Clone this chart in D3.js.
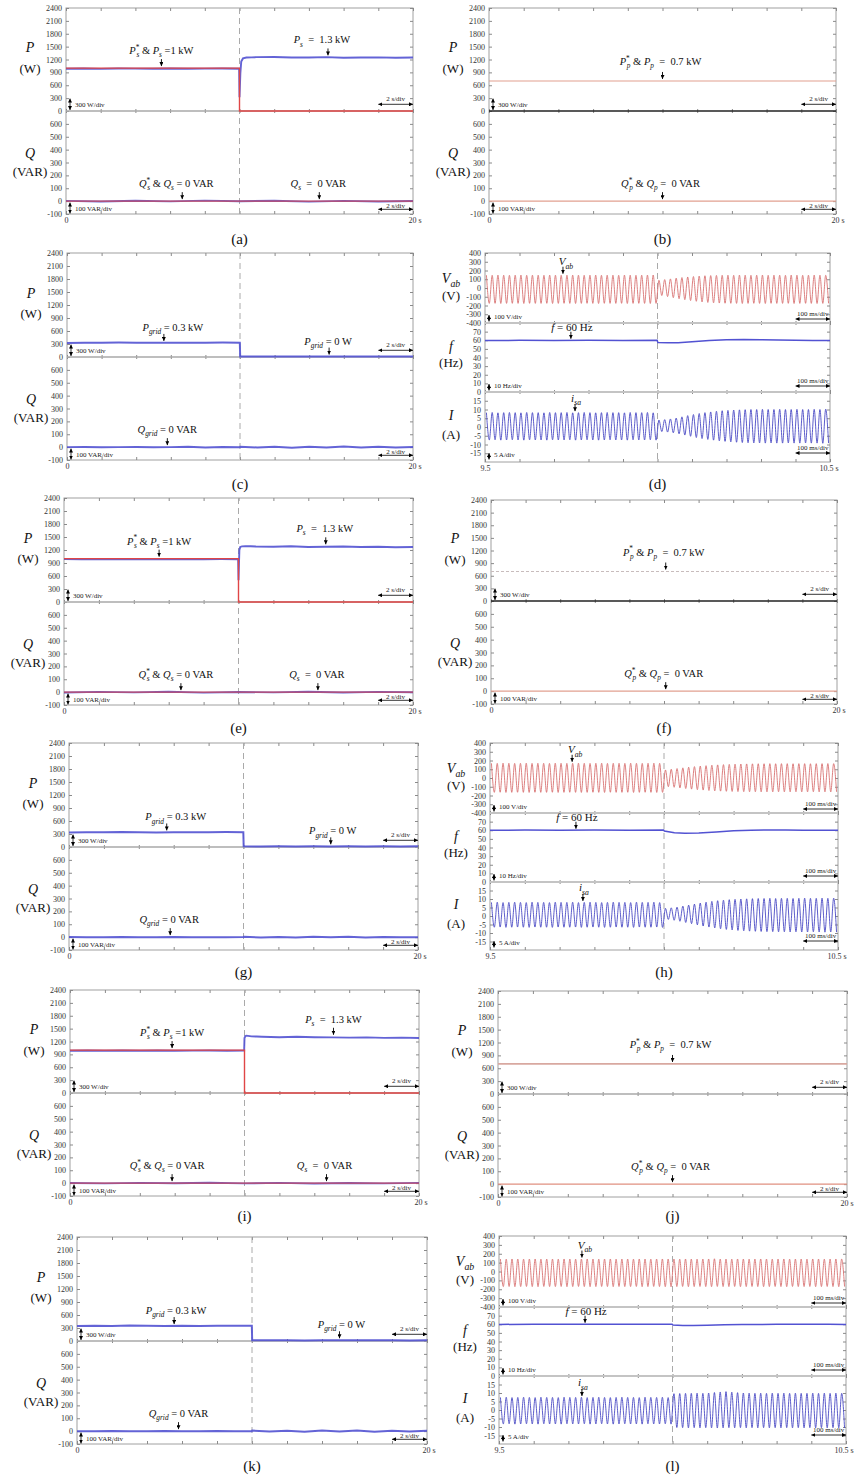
<!DOCTYPE html>
<html>
<head>
<meta charset="utf-8">
<script src="https://cdnjs.cloudflare.com/ajax/libs/d3/7.8.5/d3.min.js"></script>
<style>
body{margin:0;background:#fff;}
</style>
</head>
<body>
<svg id="fig" width="854" height="1478"></svg>
<script>
var SERIF = "'Liberation Serif','Times New Roman',serif";
var BLUE = "#5252d2";
var RED = "#e04646";

//Tick labels-----------------------------------------------------------------------------------------
var pTicks = [0,300,600,900,1200,1500,1800,2100,2400];
var qTicks = [-100,0,100,200,300,400,500,600];
var tTicks = [0,2,4,6,8,10,12,14,16,18,20];
var vTicks = [-400,-300,-200,-100,0,100,200,300,400];
var fTicks = [0,10,20,30,40,50,60,70];
var iTicks = [-15,-10,-5,0,5,10,15];
var msTicks = [9.5,9.6,9.7,9.8,9.9,10,10.1,10.2,10.3,10.4,10.5];

//Power records over 20 s (W / VAR)-------------------------------------------------------------------
var powTime = [0,1,2,3,4,5,6,7,8,9,9.98,10,10.05,10.1,10.2,10.4,10.7,11,12,13,14,15,16,17,18,19,20];
var aPs = [985,990,982,992,988,986,990,983,987,990,986,320,880,1150,1225,1245,1250,1255,1258,1248,1245,1255,1242,1246,1250,1240,1245];
var ePs = [990,985,992,986,990,984,991,987,985,990,988,500,1200,1270,1285,1290,1285,1280,1275,1285,1270,1275,1280,1270,1275,1265,1270];
var iPs = [985,992,984,990,986,992,985,988,990,984,988,1280,1325,1335,1330,1320,1315,1310,1300,1310,1300,1295,1290,1295,1285,1290,1280];

var refTime = [0,10,10,20];
var psRef = [1000,1000,0,0];
var qsRef = [0,0,0,0];

var qTime = [0,2,4,6,8,10,12,14,16,18,20];
var aQs = [2,-3,3,-2,4,-1,3,-4,2,-3,1];
var eQs = [-3,2,-2,3,-4,1,-2,3,-3,2,-1];
var iQs = [1,-2,2,-1,3,-2,2,-3,1,-2,2];

var flatTime = [0,20];
var ppVal = [700,700];
var qpVal = [0,0];

var gridTime = [0,1,2,3,4,5,6,7,8,9,9.99,10.01,11,12,13,14,15,16,17,18,19,20];
var cPg = [325,330,328,332,330,327,331,329,330,333,330,12,10,11,9,10,12,10,9,11,10,10];
var gPg = [335,342,338,345,340,337,343,339,341,344,340,15,14,16,13,15,14,16,14,15,13,15];
var kPg = [345,352,348,355,350,347,353,349,351,354,350,16,15,17,14,16,15,17,15,16,14,16];
var cQg = [0,1,-1,0,1,-1,0,2,-2,1,0,3,-3,2,-4,3,-2,4,-3,2,-2,1];
var gQg = [1,0,-1,1,0,-1,1,0,-1,0,1,2,-2,1,-3,2,-1,3,-2,1,-1,0];
var kQg = [0,-1,1,0,-1,1,0,-1,1,0,0,4,-3,3,-4,4,-3,4,-4,3,-3,2];

//Waveform peaks, one positive and one negative per 60 Hz cycle (9.5 s - 10.5 s)-------------------
var dVpos = [146,145,147,146,145,146,147,145,146,146,
	145,147,146,145,146,147,146,145,146,147,
	145,146,146,145,147,146,145,146,147,148,
	88,96,104,112,119,126,131,136,140,142,
	144,145,146,145,147,146,145,146,147,145,
	146,146,145,147,146,145,146,147,146,145];
var dVneg = [-176,-175,-177,-176,-175,-176,-177,-175,-176,-176,
	-175,-177,-176,-175,-176,-177,-176,-175,-176,-177,
	-175,-176,-176,-175,-177,-176,-175,-176,-177,-176,
	-86,-98,-110,-122,-133,-143,-152,-159,-165,-169,
	-172,-174,-175,-176,-177,-176,-175,-176,-177,-175,
	-176,-176,-175,-177,-176,-175,-176,-177,-176,-175];
var dIpos = [8.2,8.3,8.1,8.2,8.3,8.2,8.1,8.3,8.2,8.2,
	8.1,8.3,8.2,8.2,8.3,8.1,8.2,8.3,8.2,8.1,
	8.2,8.3,8.2,8.2,8.1,8.3,8.2,8.2,8.3,8.1,
	4.0,4.2,4.6,5.1,5.8,6.5,7.1,7.7,8.2,8.6,
	9.0,9.3,9.5,9.7,9.8,9.9,10.0,10.0,10.1,10.0,
	10.0,10.1,10.0,10.0,10.1,10.0,10.0,10.1,10.0,10.2];
var dIneg = [-7.4,-7.3,-7.5,-7.4,-7.3,-7.4,-7.5,-7.3,-7.4,-7.4,
	-7.5,-7.3,-7.4,-7.4,-7.3,-7.5,-7.4,-7.3,-7.4,-7.5,
	-7.4,-7.3,-7.4,-7.4,-7.5,-7.3,-7.4,-7.4,-7.3,-7.5,
	-2.6,-2.9,-3.3,-3.9,-4.6,-5.3,-6.0,-6.6,-7.1,-7.5,
	-7.9,-8.2,-8.5,-8.7,-8.9,-9.0,-9.1,-9.1,-9.2,-9.1,
	-9.2,-9.2,-9.1,-9.2,-9.2,-9.1,-9.2,-9.2,-9.3,-9.2];

var hVpos = [168,167,169,168,167,168,169,167,168,168,
	167,169,168,167,168,169,168,167,168,169,
	167,168,168,167,169,168,167,168,169,168,
	92,100,108,116,123,130,136,141,146,150,
	153,156,158,160,161,162,163,163,164,163,
	164,164,163,164,164,163,164,164,165,164];
var hVneg = [-164,-163,-165,-164,-163,-164,-165,-163,-164,-164,
	-163,-165,-164,-163,-164,-165,-164,-163,-164,-165,
	-163,-164,-164,-163,-165,-164,-163,-164,-165,-164,
	-99,-106,-113,-120,-127,-133,-138,-143,-147,-150,
	-152,-154,-155,-156,-157,-157,-158,-158,-158,-157,
	-158,-158,-157,-158,-158,-157,-158,-158,-159,-158];
var hIpos = [8.0,8.1,7.9,8.0,8.1,8.0,7.9,8.1,8.0,8.0,
	7.9,8.1,8.0,8.0,8.1,7.9,8.0,8.1,8.0,7.9,
	8.0,8.1,8.0,8.0,7.9,8.1,8.0,8.0,8.1,7.9,
	4.5,4.8,5.2,5.8,6.4,7.0,7.6,8.1,8.6,9.0,
	9.3,9.6,9.8,10.0,10.1,10.2,10.3,10.3,10.4,10.3,
	10.4,10.4,10.3,10.4,10.5,10.4,10.4,10.5,10.4,10.5];
var hIneg = [-6.6,-6.5,-6.7,-6.6,-6.5,-6.6,-6.7,-6.5,-6.6,-6.6,
	-6.7,-6.5,-6.6,-6.6,-6.5,-6.7,-6.6,-6.5,-6.6,-6.7,
	-6.6,-6.5,-6.6,-6.6,-6.7,-6.5,-6.6,-6.6,-6.5,-6.7,
	-2.0,-2.5,-3.1,-3.8,-4.5,-5.2,-5.9,-6.5,-7.0,-7.5,
	-7.9,-8.2,-8.5,-8.7,-8.9,-9.0,-9.1,-9.2,-9.2,-9.3,
	-9.3,-9.4,-9.3,-9.4,-9.4,-9.3,-9.4,-9.5,-9.4,-9.5];

var lVpos = [140,139,141,140,139,140,141,139,140,140,
	139,141,140,139,140,141,140,139,140,141,
	139,140,140,139,141,140,139,140,141,140,
	140,139,141,140,139,140,141,143,140,140,
	139,141,140,139,140,141,140,139,140,141,
	139,140,140,139,141,140,139,140,141,140];
var lVneg = [-170,-169,-171,-170,-169,-170,-171,-169,-170,-170,
	-169,-171,-170,-169,-170,-171,-170,-169,-170,-171,
	-169,-170,-170,-169,-171,-170,-169,-170,-171,-172,
	-170,-169,-171,-170,-169,-170,-171,-169,-170,-170,
	-169,-171,-170,-169,-170,-171,-170,-169,-170,-171,
	-169,-170,-170,-169,-171,-170,-169,-170,-171,-170];
var lIpos = [7.4,7.5,7.3,7.4,7.5,7.4,7.3,7.5,7.4,7.4,
	7.3,7.5,7.4,7.4,7.5,7.3,7.4,7.5,7.4,7.3,
	7.4,7.5,7.4,7.4,7.3,7.5,7.4,7.4,7.5,7.3,
	9.6,9.7,9.8,9.8,9.9,9.8,10.0,10.3,10.6,10.8,
	10.5,10.2,10.0,9.9,9.8,9.9,9.8,9.9,9.8,9.9,
	9.8,9.9,9.8,9.8,9.9,9.8,9.9,9.8,9.9,9.8];
var lIneg = [-8.2,-8.1,-8.3,-8.2,-8.1,-8.2,-8.3,-8.1,-8.2,-8.2,
	-8.3,-8.1,-8.2,-8.2,-8.1,-8.3,-8.2,-8.1,-8.2,-8.3,
	-8.2,-8.1,-8.2,-8.2,-8.3,-8.1,-8.2,-8.2,-8.1,-8.3,
	-10.3,-10.4,-10.5,-10.4,-10.5,-10.4,-10.5,-10.6,-10.5,-10.4,
	-10.5,-10.4,-10.5,-10.4,-10.5,-10.4,-10.5,-10.4,-10.5,-10.4,
	-10.5,-10.4,-10.5,-10.4,-10.5,-10.4,-10.5,-10.4,-10.5,-10.6];

//Frequency records (Hz)------------------------------------------------------------------------------
var fTime = [9.5,9.6,9.7,9.8,9.9,9.999,10.001,10.03,10.06,10.1,10.15,10.2,10.25,10.3,10.35,10.4,10.45,10.5];
var dF = [59.6,59.9,59.7,60.0,59.8,59.9,57.4,57.0,57.2,58.3,59.6,60.5,60.9,60.7,60.3,59.9,59.6,59.8];
var hF = [60.0,60.2,60.0,60.3,60.1,60.2,59.0,57.2,56.5,56.8,58.0,59.3,60.0,60.4,60.3,60.0,60.1,60.0];
var lF = [59.8,60.0,59.9,60.1,60.0,60.1,59.2,58.6,58.5,58.8,59.3,59.6,59.8,60.0,59.9,60.0,59.9,59.8];

//Text helpers----------------------------------------------------------------------------------------
function N(t){ return {t:t}; }
function I(t){ return {t:t, i:1}; }
function SB(t,dx){ return {t:t, i:1, k:"sub", dx:dx}; }
function SP(t){ return {t:t, k:"sup"}; }

var svg = d3.select("#fig");
svg.style("font-family",SERIF);
var defs = svg.append("defs");
defs.append("marker").attr("id","ah")
	.attr("viewBox","0 0 10 10").attr("refX",10).attr("refY",5)
	.attr("markerWidth",4).attr("markerHeight",4)
	.attr("markerUnits","userSpaceOnUse").attr("orient","auto-start-reverse")
	.append("path").attr("d","M0,0L10,5L0,10z").attr("fill","#000");

function rich(sel, parts, size)
{
	var cur = 0;
	parts.forEach(function(p){
		var small = (p.k === "sub" || p.k === "sup");
		var shift = p.k === "sub" ? size*0.3 : (p.k === "sup" ? -size*0.42 : 0);
		sel.append("tspan").text(p.t)
			.attr("dy", shift - cur)
			.attr("dx", p.dx || 0)
			.style("font-size", (small ? size*0.7 : size) + "px")
			.style("font-style", p.i ? "italic" : "normal");
		cur = shift;
	});
}

function label(g, xx, yy, parts, size, anchor)
{
	var t = g.append("text").attr("x",xx).attr("y",yy)
		.attr("text-anchor",anchor || "middle")
		.style("white-space","pre").attr("fill","#111");
	rich(t, parts, size);
	return t;
}

function plain(d){ return String(d); }

function tidy(ax)
{
	ax.attr("font-family",SERIF).attr("font-size",8);
	ax.select(".domain").remove();
	ax.selectAll(".tick line").attr("stroke","#8a8a8a");
	ax.selectAll(".tick text").attr("fill","#333");
}

function yAxes(g, y, ticks, x0, x1)
{
	tidy(g.append("g").attr("transform","translate("+x0+",0)")
		.call(d3.axisLeft(y).tickValues(ticks).tickSizeInner(-3).tickSizeOuter(0).tickPadding(4).tickFormat(plain)));
	tidy(g.append("g").attr("transform","translate("+x1+",0)")
		.call(d3.axisRight(y).tickValues(ticks).tickSizeInner(-3).tickSizeOuter(0).tickFormat("")));
}

function xTicks(g, x, ticks, yy, up, down)
{
	if(up)
		tidy(g.append("g").attr("transform","translate(0,"+yy+")")
			.call(d3.axisBottom(x).tickValues(ticks).tickSizeInner(-up).tickSizeOuter(0).tickFormat("")));
	if(down)
		tidy(g.append("g").attr("transform","translate(0,"+yy+")")
			.call(d3.axisTop(x).tickValues(ticks).tickSizeInner(-down).tickSizeOuter(0).tickFormat("")));
}

function xLabels(g, x, ticks, yy, first, last)
{
	var ax = g.append("g").attr("transform","translate(0,"+yy+")")
		.call(d3.axisBottom(x).tickValues(ticks).tickSizeInner(-3).tickSizeOuter(0).tickPadding(3)
		.tickFormat(function(d,i){ return i === 0 ? first : (i === ticks.length-1 ? last : ""); }));
	tidy(ax);
	//keep the last label inside the page
	ax.selectAll(".tick text").filter(function(d,i){ return i === ticks.length-1; })
		.attr("text-anchor","end").attr("dx", Math.min(8, 853 - x(ticks[ticks.length-1])));
}

function note(g, xx, tip, parts, dx, gap)
{
	g.append("line").attr("x1",xx).attr("x2",xx).attr("y1",tip-7).attr("y2",tip)
		.attr("stroke","#000").attr("stroke-width",0.9).attr("marker-end","url(#ah)");
	label(g, xx+(dx||0), tip-(gap||12), parts, 10.5);
}

function vDiv(g, xx, ya, yb, txt)
{
	g.append("line").attr("x1",xx).attr("x2",xx).attr("y1",ya).attr("y2",yb)
		.attr("stroke","#000").attr("stroke-width",0.8)
		.attr("marker-start","url(#ah)").attr("marker-end","url(#ah)");
	g.append("text").attr("x",xx+5).attr("y",yb-3).text(txt)
		.style("font-size","7px").attr("fill","#222");
}

function hDiv(g, xa, xb, yy, ty, txt)
{
	g.append("line").attr("x1",xa).attr("x2",xb).attr("y1",yy).attr("y2",yy)
		.attr("stroke","#000").attr("stroke-width",0.8)
		.attr("marker-start","url(#ah)").attr("marker-end","url(#ah)");
	g.append("text").attr("x",(xa+xb)/2).attr("y",ty).text(txt)
		.attr("text-anchor","middle").style("font-size","7px").attr("fill","#222");
}

function pts(t, v){ return t.map(function(tt,i){ return [tt, v[i]]; }); }

//P and Q panels over 20 s------------------------------------------------------------------------------
function drawPQ(p)
{
	var g = svg.append("g");
	var x = d3.scaleLinear().domain([0,20]).range([p.x0,p.x1]);
	var yP = d3.scaleLinear().domain([0,2400]).range([p.ym,p.y0]);
	var yQ = d3.scaleLinear().domain([-100,700]).range([p.y1,p.ym]);

	g.append("rect").attr("x",p.x0).attr("y",p.y0)
		.attr("width",p.x1-p.x0).attr("height",p.y1-p.y0)
		.attr("fill","none").attr("stroke","#a0a0a0");

	yAxes(g, yP, pTicks, p.x0, p.x1);
	yAxes(g, yQ, qTicks, p.x0, p.x1);
	xTicks(g, x, tTicks, p.y0, 0, 3);
	xTicks(g, x, tTicks, p.ym, 2, 2);
	xLabels(g, x, tTicks, p.y1, "0", "20 s");

	g.append("line").attr("x1",p.x0).attr("x2",p.x1).attr("y1",p.ym).attr("y2",p.ym)
		.attr("stroke",p.divColor || "#a8a8a8").attr("stroke-width",1.4);

	if(p.step)
		g.append("line").attr("x1",x(10)).attr("x2",x(10)).attr("y1",p.y0).attr("y2",p.y1)
			.attr("stroke","#aaa").attr("stroke-dasharray","6,4");

	var lineP = d3.line().x(function(d){ return x(d[0]); }).y(function(d){ return yP(d[1]); });
	var lineQ = d3.line().x(function(d){ return x(d[0]); }).y(function(d){ return yQ(d[1]); });
	p.pLines.forEach(function(l){
		g.append("path").attr("d",lineP(pts(l.t,l.v))).attr("fill","none")
			.attr("stroke",l.c).attr("stroke-width",l.w).attr("stroke-dasharray",l.dash || null)
			.attr("opacity",l.o || 1);
	});
	p.qLines.forEach(function(l){
		g.append("path").attr("d",lineQ(pts(l.t,l.v))).attr("fill","none")
			.attr("stroke",l.c).attr("stroke-width",l.w).attr("stroke-dasharray",l.dash || null)
			.attr("opacity",l.o || 1);
	});

	p.pNotes.forEach(function(n){ note(g, x(n.t), yP(n.v)-2, n.parts, n.dx, n.gap); });
	p.qNotes.forEach(function(n){ note(g, x(n.t), yQ(n.v)-2, n.parts, n.dx, n.gap); });

	//axis titles
	var tx = p.x0 - 36;
	label(g, tx, p.y0 + 0.38*(p.ym-p.y0) + 5, [I("P")], 14);
	label(g, tx, p.y0 + 0.58*(p.ym-p.y0) + 5, [N("(W)")], 13);
	label(g, tx, p.ym + 0.41*(p.y1-p.ym) + 5, [I("Q")], 14);
	label(g, tx, p.ym + 0.58*(p.y1-p.ym) + 5, [N("(VAR)")], 13);

	//scale indicators
	vDiv(g, p.x0+4, p.ym-12.5, p.ym-1, "300 W/div");
	hDiv(g, x(18), p.x1, p.ym-6.7, p.ym-10, "2 s/div");
	vDiv(g, p.x0+4, p.y1-11.5, p.y1-0.5, "100 VAR/div");
	hDiv(g, x(18), p.x1, p.y1-4.7, p.y1-6.5, "2 s/div");

	g.append("text").attr("x",(p.x0+p.x1)/2).attr("y",p.capY).attr("text-anchor","middle")
		.style("font-size","15px").attr("fill","#111").text(p.cap);
}

//V, f and I panels over 9.5 s - 10.5 s-------------------------------------------------------------------
function wave(pos, neg)
{
	var out = [];
	for(var k=0;k<pos.length;k++)
		{
			out.push([9.5 + (k+0.25)/60, pos[k]]);
			out.push([9.5 + (k+0.75)/60, neg[k]]);
		}
	return out;
}

function drawVFI(p)
{
	var g = svg.append("g");
	var x = d3.scaleLinear().domain([9.5,10.5]).range([p.x0,p.x1]);
	var yV = d3.scaleLinear().domain([-400,400]).range([p.y1,p.y0]);
	var yF = d3.scaleLinear().domain([0,80]).range([p.y2,p.y1]);
	var yI = d3.scaleLinear().domain([-20,20]).range([p.y3,p.y2]);

	g.append("rect").attr("x",p.x0).attr("y",p.y0)
		.attr("width",p.x1-p.x0).attr("height",p.y3-p.y0)
		.attr("fill","none").attr("stroke","#a0a0a0");

	yAxes(g, yV, vTicks, p.x0, p.x1);
	yAxes(g, yF, fTicks, p.x0, p.x1);
	yAxes(g, yI, iTicks, p.x0, p.x1);
	xTicks(g, x, msTicks, p.y0, 0, 3);
	xTicks(g, x, msTicks, p.y1, 2, 2);
	xTicks(g, x, msTicks, p.y2, 2, 2);
	xLabels(g, x, msTicks, p.y3, "9.5", "10.5 s");

	[p.y1,p.y2].forEach(function(yy){
		g.append("line").attr("x1",p.x0).attr("x2",p.x1).attr("y1",yy).attr("y2",yy)
			.attr("stroke","#c4c4c4").attr("stroke-width",2);
	});

	g.append("line").attr("x1",x(10)).attr("x2",x(10)).attr("y1",p.y0).attr("y2",p.y3)
		.attr("stroke","#aaa").attr("stroke-dasharray","6,4");

	var lineV = d3.line().curve(d3.curveMonotoneX).x(function(d){ return x(d[0]); }).y(function(d){ return yV(d[1]); });
	var lineF = d3.line().x(function(d){ return x(d[0]); }).y(function(d){ return yF(d[1]); });
	var lineI = d3.line().curve(d3.curveMonotoneX).x(function(d){ return x(d[0]); }).y(function(d){ return yI(d[1]); });

	g.append("path").attr("d",lineV(wave(p.vPos,p.vNeg))).attr("fill","none")
		.attr("stroke","#d87272").attr("stroke-width",0.9);
	g.append("path").attr("d",lineF(pts(fTime,p.f))).attr("fill","none")
		.attr("stroke",BLUE).attr("stroke-width",1.5);
	g.append("path").attr("d",lineI(wave(p.iPos,p.iNeg))).attr("fill","none")
		.attr("stroke","#4a4ac4").attr("stroke-width",0.9);

	//annotations
	g.append("line").attr("x1",x(p.nV)).attr("x2",x(p.nV)).attr("y1",yV(p.vPos[0])-8.5).attr("y2",yV(p.vPos[0])-1.5)
		.attr("stroke","#000").attr("stroke-width",0.9).attr("marker-end","url(#ah)");
	label(g, x(p.nV)+3, yV(p.vPos[0])-10, [I("V"), SB("ab")], 11);
	g.append("line").attr("x1",x(p.nF)).attr("x2",x(p.nF)).attr("y1",yF(60)-8.5).attr("y2",yF(60)-1.5)
		.attr("stroke","#000").attr("stroke-width",0.9).attr("marker-end","url(#ah)");
	label(g, x(p.nF)+1, yF(60)-9, [I("f"), N(" = 60 Hz")], 11);
	g.append("line").attr("x1",x(p.nI)).attr("x2",x(p.nI)).attr("y1",yI(p.iPos[0])-8.5).attr("y2",yI(p.iPos[0])-1.5)
		.attr("stroke","#000").attr("stroke-width",0.9).attr("marker-end","url(#ah)");
	label(g, x(p.nI)+1, yI(p.iPos[0])-11, [I("i"), SB("sa")], 11);

	//axis titles
	var tx = p.x0 - 34;
	label(g, tx, p.y0 + 0.37*(p.y1-p.y0) + 4, [I("V"), SB("ab")], 14);
	label(g, tx, p.y0 + 0.60*(p.y1-p.y0) + 5, [N("(V)")], 13);
	label(g, tx, p.y1 + 0.33*(p.y2-p.y1) + 5, [I("f")], 14);
	label(g, tx, p.y1 + 0.56*(p.y2-p.y1) + 5, [N("(Hz)")], 13);
	label(g, tx, p.y2 + 0.33*(p.y3-p.y2) + 5, [I("I")], 14);
	label(g, tx, p.y2 + 0.60*(p.y3-p.y2) + 5, [N("(A)")], 13);

	//scale indicators
	vDiv(g, p.x0+4, p.y1-8, p.y1-1.5, "100 V/div");
	vDiv(g, p.x0+4, p.y2-8, p.y2-1.5, "10 Hz/div");
	vDiv(g, p.x0+4, p.y3-9, p.y3-2.5, "5 A/div");
	hDiv(g, x(10.4), p.x1, p.y1-4, p.y1-7.5, "100 ms/div");
	hDiv(g, x(10.4), p.x1, p.y2-6, p.y2-9.5, "100 ms/div");
	hDiv(g, x(10.4), p.x1, p.y3-9, p.y3-12.5, "100 ms/div");

	g.append("text").attr("x",(p.x0+p.x1)/2).attr("y",p.capY).attr("text-anchor","middle")
		.style("font-size","15px").attr("fill","#111").text(p.cap);
}

//Annotation texts--------------------------------------------------------------------------------------
var txtPs1 = [I("P"), SP("*"), SB("s",-3), N(" & "), I("P"), SB("s"), N(" =1 kW")];
var txtPs2 = [I("P"), SB("s"), N("  =  1.3 kW")];
var txtQs1 = [I("Q"), SP("*"), SB("s",-3), N(" & "), I("Q"), SB("s"), N(" = 0 VAR")];
var txtQs2 = [I("Q"), SB("s"), N("  =  0 VAR")];
var txtPp = [I("P"), SP("*"), SB("p",-3), N(" & "), I("P"), SB("p"), N("  =  0.7 kW")];
var txtQp = [I("Q"), SP("*"), SB("p",-3), N(" & "), I("Q"), SB("p"), N(" =  0 VAR")];
var txtPg1 = [I("P"), SB("grid"), N(" = 0.3 kW")];
var txtPg2 = [I("P"), SB("grid"), N(" = 0 W")];
var txtQg = [I("Q"), SB("grid"), N(" = 0 VAR")];

function sPanel(box, ps, qs, n)
{
	return {x0:box[0], x1:box[1], y0:box[2], ym:box[3], y1:box[4], cap:box[5], capY:box[6], step:true,
		pLines:[{t:powTime, v:ps, c:BLUE, w:1.9, o:0.9}, {t:refTime, v:psRef, c:RED, w:1.4}],
		qLines:[{t:qTime, v:qs, c:BLUE, w:1.9, o:0.9}, {t:refTime, v:qsRef, c:RED, w:1.1, o:0.8}],
		pNotes:[{t:n[0], v:1000, parts:txtPs1, dx:n[4]}, {t:n[1], v:ps[19], parts:txtPs2, dx:n[5]}],
		qNotes:[{t:n[2], v:0, parts:txtQs1, dx:n[6]}, {t:n[3], v:0, parts:txtQs2, dx:n[7]}]};
}

function pPanel(box, nt, pc, qc, pw, pdash, div)
{
	return {x0:box[0], x1:box[1], y0:box[2], ym:box[3], y1:box[4], cap:box[5], capY:box[6], step:false, divColor:div,
		pLines:[{t:flatTime, v:ppVal, c:pc, w:pw, dash:pdash}],
		qLines:[{t:flatTime, v:qpVal, c:qc, w:1.1}],
		pNotes:[{t:nt, v:700, parts:txtPp, dx:-2, gap:14}],
		qNotes:[{t:nt, v:0, parts:txtQp, dx:-2}]};
}

function gPanel(box, pg, qg, n)
{
	return {x0:box[0], x1:box[1], y0:box[2], ym:box[3], y1:box[4], cap:box[5], capY:box[6], step:true,
		pLines:[{t:gridTime, v:pg, c:BLUE, w:2, o:0.9}],
		qLines:[{t:gridTime, v:qg, c:BLUE, w:2, o:0.9}],
		pNotes:[{t:n[0], v:pg[0], parts:txtPg1, dx:n[3], gap:10}, {t:n[1], v:pg[15], parts:txtPg2, dx:n[4], gap:10}],
		qNotes:[{t:n[2], v:0, parts:txtQg, dx:n[5]}]};
}

drawPQ(sPanel([66,413,8,111,214,"(a)",244], aPs, aQs, [5.5,15.1,6.7,14.6,0,-6,-6,-1]));
drawPQ(pPanel([489,836,8,111,214,"(b)",244], 10, "#e2a090", "#e2a090", 1.1, null, "#222"));
drawPQ(gPanel([67,413,253,357,460,"(c)",489], cPg, cQg, [5.6,15.15,5.8,9,-1,0]));
drawVFI({x0:485, x1:830, y0:253, y1:323, y2:392, y3:462, cap:"(d)", capY:489,
	vPos:dVpos, vNeg:dVneg, f:dF, iPos:dIpos, iNeg:dIneg, nV:9.726, nF:9.749, nI:9.761});
drawPQ(sPanel([64,413,498,602,705,"(e)",733], ePs, eQs, [5.45,15.0,6.7,14.55,0,-1,-5,-1]));
drawPQ(pPanel([491,837,500,601,704,"(f)",733], 10.1, "#c8bcbc", "#e2a090", 1.1, "3,2", "#222"));
drawPQ(gPanel([69,418,743,847,950,"(g)",977], gPg, gQg, [5.6,15.0,5.8,9,2,-1]));
drawVFI({x0:490, x1:838, y0:743, y1:813, y2:882, y3:950, cap:"(h)", capY:977,
	vPos:hVpos, vNeg:hVneg, f:hF, iPos:hIpos, iNeg:hIneg, nV:9.736, nF:9.747, nI:9.767});
drawPQ(sPanel([70,419,990,1093,1196,"(i)",1221], iPs, iQs, [5.85,15.1,5.85,14.7,0,0,-5,-2]));
drawPQ(pPanel([498,847,991,1094,1197,"(j)",1221], 10, "#d8a8a0", "#e09080", 1.7, null, "#a8a8a8"));
drawPQ(gPanel([77,427,1237,1341,1444,"(k)",1471], kPg, kQg, [5.55,15.0,5.8,2,2,0]));
drawVFI({x0:499, x1:846, y0:1236, y1:1307, y2:1376, y3:1444, cap:"(l)", capY:1471,
	vPos:lVpos, vNeg:lVneg, f:lF, iPos:lIpos, iNeg:lIneg, nV:9.739, nF:9.748, nI:9.739});
</script>
</body>
</html>
